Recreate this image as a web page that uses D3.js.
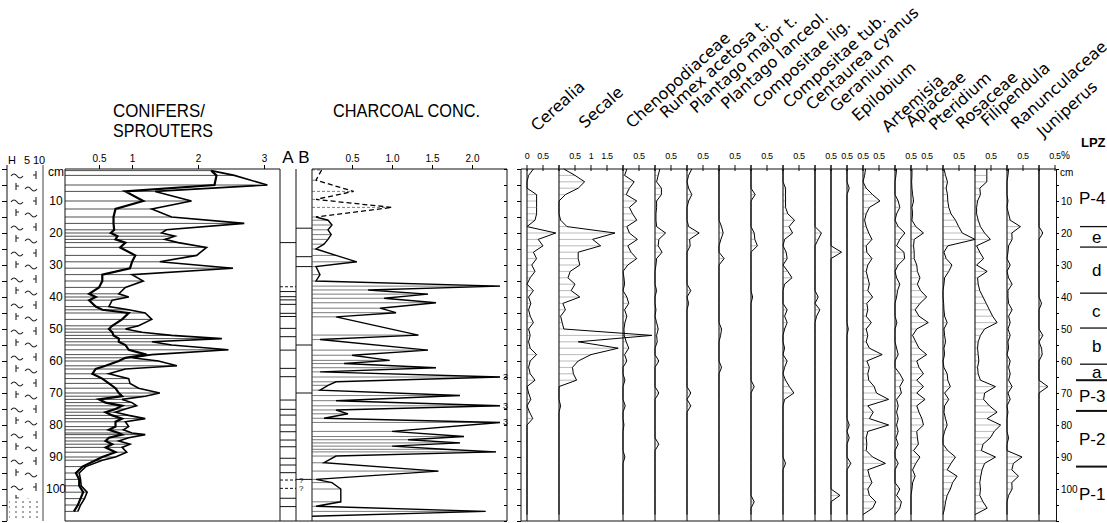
<!DOCTYPE html>
<html>
<head>
<meta charset="utf-8">
<script src="https://cdn.jsdelivr.net/npm/d3@7"></script>
<style>
  body { margin: 0; background: #fff; }
  svg { display: block; font-family: "Liberation Sans", Arial, sans-serif; }
</style>
</head>
<body>
<svg id="chart" width="1107" height="523"></svg>
<script>
// ---- data ----
// conifers / sprouters ratio (outer curve + bold inner curve)
var conDepths = [0.5,2,5,7,10,12.5,15,17,19,20,21,22,23,24.5,27,29,31,33,35,37,39,40,41,43,44,45,47,49,50,51,52,53,54,55,56.5,58,59,60,61.5,62.5,64,65.5,67,68.5,70,71,72,73,74,75,76,77,78,79,80.5,81.5,82.5,83,84,85,86,87,88.5,90,91,93,95,97,99,101,103,105,107];
var conOuter  = [2.2,2.55,3.05,1.35,1.9,1.3,1.6,2.7,1.52,1.45,1.65,1.5,1.7,2.13,1.98,1.42,2.53,1.0,1.17,0.9,0.8,0.95,0.7,0.65,0.95,1.2,1.3,1.1,0.9,1.15,1.6,2.36,1.3,1.6,2.46,1.3,1.0,1.4,1.68,0.9,0.65,0.95,0.97,1.1,1.42,1.2,0.85,1.0,1.07,0.9,0.75,0.95,1.2,0.9,0.95,0.87,1.0,1.2,0.95,0.8,0.97,0.85,0.92,0.75,0.55,0.3,0.2,0.22,0.23,0.32,0.28,0.22,0.18];
var conInner  = [2.2,2.28,2.25,0.9,1.17,0.75,0.72,0.72,0.73,0.68,0.78,0.75,0.9,0.82,1.05,1.0,0.97,0.55,0.55,0.5,0.35,0.45,0.35,0.45,0.55,0.95,0.85,0.7,0.65,0.7,0.72,0.8,0.8,0.9,0.95,1.22,0.9,0.8,0.6,0.45,0.4,0.55,0.65,0.75,0.8,0.85,0.5,0.6,0.85,0.75,0.6,0.7,0.85,0.75,0.75,0.65,0.8,0.85,0.65,0.6,0.7,0.6,0.75,0.55,0.45,0.25,0.15,0.2,0.2,0.26,0.22,0.18,0.12];

// charcoal concentration (values above the panel are printed as "3")
var charDepths = [0.3,3.5,7,9.5,12,15,16,17.5,19,20.5,22,23.5,25,27,29,30.5,33,35,36.6,37.8,39.1,40.4,41.8,43.5,44.9,46.2,51.9,53.3,56.6,58.2,59.8,60.8,62.1,63.4,65,66.5,67.6,69.1,70.8,72.4,74,75.3,76.5,77.9,79.2,82,83.6,84.6,85.6,86.6,87.6,88.4,89.7,91.8,94.4,97,98,100,104,105.4,107,108.5];
var charcoal   = [0.12,0.05,0.52,0.05,1.0,0.05,0.2,0.25,0.2,0.24,0.2,0.15,0.05,0.3,0.56,0.05,0.1,0.05,2.35,0.7,1.45,0.9,1.55,0.85,1.05,0.3,1.33,0.1,1.45,0.5,0.97,0.4,1.55,0.1,3,0.3,0.2,0.1,1.85,0.3,3,0.3,0.45,0.15,3,1.0,1.9,1.2,1.85,1.0,1.65,2.3,0.3,0.15,1.58,0.05,0.25,0.36,0.36,0.05,2.17,0];
var charDashedTo = 15;   // upper part of the charcoal curve is dashed

// columns A and B
var aLines  = [23,36.8,38.3,39.9,40.9,42.3,45.1,46.1,49.8,52.4,56.6,62.3,64.9,72.2,75.1,76.9,80,82.1,84.7,86.8,90.4,92.5,94.9,97.2,99.8,102.9,105.5];
var aDashed = [36.8,97.2,99.8];
var aQuery  = [97.2,99.8];
var bLines  = [18.5,27.4,30.5,55,70,97];

// pollen taxa (% values at the sample depths)
var pollenDepths = [0,2,4,6,8,10,12,14,16,18,20,22,24,26,28,30,32,34,36,38,40,42,44,46,48,50,52,54,56,58,60,62,64,66,68,70,72,74,76,78,80,82,84,86,88,90,92,94,96,98,100,102,104,106,108];
var taxa = ["Cerealia","Secale","Chenopodiaceae","Rumex acetosa t.","Plantago major  t.","Plantago lanceol.","Compositae lig.","Compositae tub.","Centaurea cyanus","Geranium","Epilobium","Artemisia","Apiaceae","Pteridium","Rosaceae","Filipendula","Ranunculaceae","Juniperus"];
var taxaScaleMax = [1,2,1,1,1,1,1,1,0.5,0.5,0.5,1,0.5,1,1,1,1,0.5];

var cerealia = [0.2,0.05,0,0,0.3,0.3,0.3,0.3,0.25,0, 0.9,0.35,0.5,0.2,0.3,0.15,0.25,0.1,0,0.2, 0.05,0.12,0.05,0.1,0.2,0.05,0.1,0.05,0.1,0.3, 0.1,0.05,0.1,0.25,0,0.05,0.12,0,0.08,0.18, 0,0,0,0,0,0,0,0,0,0, 0,0,0,0,0];
var secale   = [0.15,0.5,0.8,0.6,0.2,0,0,0,0.05,0.25, 1.75,1.05,1.3,0.6,0.6,0.65,0.35,0.28,0.5,0.38, 0.65,0.12,0.2,0.05,0.1,0.15,2.9,0.6,1.85,1.0, 0.6,0.42,0.45,0.55,0,0,0,0.05,0,0, 0,0,0,0,0,0,0,0,0,0, 0,0,0,0,0];
var cheno    = [0.12,0.05,0.35,0.2,0.1,0.43,0.2,0.3,0.43,0.12, 0.2,0.45,0.15,0.25,0.43,0.15,0,0.03,0.05,0, 0.12,0.18,0.05,0.12,0.06,0.03,0.04,0.1,0.18,0.05, 0.12,0,0,0.06,0,0,0,0.07,0,0, 0.03,0,0,0,0,0.06,0,0,0,0, 0,0,0,0,0];
var rumex    = [0.15,0.1,0.05,0.2,0.2,0.05,0.05,0.03,0.03,0.05, 0.33,0.12,0.1,0.22,0.05,0.03,0,0,0,0.05, 0,0,0.03,0,0.05,0.1,0.05,0.07,0,0, 0.12,0,0,0,0,0.12,0,0,0,0, 0,0,0,0.12,0,0,0,0,0,0, 0,0,0,0,0];
var plantMaj = [0.15,0.05,0,0.05,0.15,0.05,0,0,0,0.05, 0.38,0.08,0.1,0,0,0,0,0,0,0.12, 0,0.05,0,0,0,0,0,0,0,0, 0,0,0,0,0,0.12,0,0.12,0,0, 0,0,0,0,0,0,0,0,0,0, 0,0,0,0,0];
var plantLan = [0,0,0,0,0,0,0,0,0,0.08, 0.13,0.06,0,0,0.16,0,0,0,0,0, 0,0,0,0,0,0.08,0.05,0,0,0, 0,0.08,0,0,0,0,0,0,0,0, 0,0,0,0,0,0,0,0,0,0, 0,0,0,0,0];
var compLig  = [0,0,0,0,0.13,0,0,0,0,0, 0.1,0.12,0.2,0,0,0,0,0,0,0, 0.05,0,0,0,0,0,0,0,0,0, 0,0,0,0,0.1,0,0,0,0,0, 0,0,0,0,0,0,0,0,0,0, 0,0,0.1,0,0];
var compTub  = [0,0,0,0.08,0.08,0.08,0.08,0.15,0.36,0.19, 0.3,0.05,0,0.1,0.13,0,0.15,0.28,0.05,0, 0,0,0.13,0.05,0.13,0.05,0,0,0.05,0, 0.13,0.05,0,0.08,0.2,0.34,0.05,0,0,0, 0,0,0,0,0,0,0.08,0,0,0, 0,0,0,0,0];
var centaur  = [0,0,0,0,0,0,0,0,0,0, 0.2,0.1,0,0,0,0,0,0,0,0, 0.1,0,0.15,0.05,0,0,0,0,0,0, 0,0,0,0,0,0,0,0,0,0, 0,0,0,0,0,0,0,0,0,0, 0,0,0,0,0];
var geranium = [0,0,0,0,0,0,0,0,0,0, 0,0,0,0.33,0,0,0,0,0,0, 0,0,0,0,0,0,0,0,0,0, 0,0,0,0,0,0,0,0,0,0, 0,0,0,0,0,0,0,0,0,0, 0,0.28,0,0,0];
var epilob   = [0,0,0,0.07,0,0,0,0,0,0, 0,0,0,0,0,0,0,0,0,0, 0,0,0,0,0,0.04,0,0,0,0, 0,0,0,0,0,0,0,0,0,0, 0.07,0,0.07,0,0,0,0.12,0,0,0, 0,0,0,0,0];
var artemis  = [0.08,0.05,0,0.1,0.3,0.53,0.2,0.1,0.05,0.1, 0.18,0.28,0.1,0.12,0.28,0.15,0.1,0.15,0.2,0.15, 0.3,0.12,0.15,0.1,0.26,0.1,0.15,0.1,0.2,0.6, 0.12,0.2,0.15,0.18,0.35,0.42,0.8,0.15,0.32,0.2, 0.8,0.15,0.1,0.12,0.1,0.3,0.7,0.15,0.2,0.28, 0.15,0.2,0.4,0.3,0];
var apiac    = [0.05,0.03,0,0,0,0.1,0.15,0.05,0,0.1, 0.31,0.15,0.05,0.28,0.3,0.1,0,0.05,0.15,0.08, 0.05,0,0,0,0.06,0,0,0,0.05,0.1, 0,0,0.15,0.26,0.15,0.2,0.05,0.1,0.05,0.1, 0.05,0.1,0.03,0.1,0,0,0.1,0,0,0, 0.15,0.05,0.2,0.15,0];
var pterid   = [0.03,0.03,0.02,0.03,0.05,0.08,0.03,0.05,0.03,0.15, 0.39,0.1,0.08,0.1,0.1,0.18,0.2,0.28,0.2,0.3, 0.49,0.28,0.13,0.25,0.54,0.18,0.05,0.15,0.25,0.49, 0.18,0.25,0.39,0.18,0.39,0.18,0.44,0.18,0.25,0.34, 0.39,0.18,0.2,0.23,0.08,0.28,0.15,0.05,0.13,0.05, 0.03,0,0,0,0];
var rosac    = [0.03,0.08,0.14,0.1,0.14,0.15,0.18,0.25,0.39,0.49, 0.6,1.0,0.15,0.03,0.1,0.28,0.18,0.05,0.03,0, 0,0.02,0.03,0.05,0.13,0.03,0.05,0.08,0.03,0.05, 0,0.03,0.13,0.15,0.23,0.05,0.18,0.05,0.03,0.08, 0.13,0.05,0,0,0.15,0.39,0.25,0.13,0.44,0.3, 0.23,0.13,0.08,0.05,0];
var filip    = [0.37,0.37,0.37,0.15,0.17,0.08,0.05,0.05,0.1,0.17, 0.3,0.48,0.05,0.15,0.27,0.05,0.38,0.08,0.1,0.15, 0.25,0.35,0.45,0.55,0.69,0.3,0.17,0.1,0.08,0.1, 0.12,0.08,0.1,0.17,0.64,0.3,0.27,0.45,0.69,0.38, 0.8,0.6,0.48,0.25,0.2,0.64,0.3,0.22,0.18,0.15, 0.17,0.15,0.25,0.38,0];
var ranunc   = [0.05,0.03,0,0,0,0.03,0,0.05,0.1,0.42, 0.15,0.16,0.05,0.03,0,0.1,0,0.05,0.16,0.03, 0.03,0.05,0.16,0.05,0.1,0.03,0.1,0.03,0.05,0, 0.1,0.05,0.1,0.05,0.16,0.03,0.1,0,0.03,0, 0,0,0.05,0,0,0.47,0.2,0.15,0.36,0.15, 0.16,0.05,0,0,0];
var junip    = [0,0,0,0,0,0,0,0,0,0, 0.12,0,0,0,0,0,0,0,0,0, 0,0.08,0,0,0,0,0.12,0,0.08,0.1, 0,0,0,0,0.28,0,0,0,0,0, 0,0,0,0,0,0,0,0,0,0, 0,0,0,0,0];
var pollenValues = [cerealia,secale,cheno,rumex,plantMaj,plantLan,compLig,compTub,centaur,geranium,epilob,artemis,apiac,pterid,rosac,filip,ranunc,junip];

// local pollen assemblage zones
var zoneBounds = [18,24.4,38.8,49.7,61,66,75.6,93];
var zoneMajor  = [false,false,false,false,false,true,true,true];
var zoneNames  = ["P-4","e","d","c","b","a","P-3","P-2","P-1"];

// lithology units
var lithTypes  = ["peat","sand"];
var lithTop    = [0,103];
var lithBottom = [103,110];

var depthLabels = [10,20,30,40,50,60,70,80,90,100];
var depthTicks  = [0,5,10,15,20,25,30,35,40,45,50,55,60,65,70,75,80,85,90,95,100,105,110];

// start points of the slanted taxon names (layout only)
var labelX = [537,585,632,666,696,727,759,789,812,836,858,888,912,935,962,987,1017,1043];
var labelY = [132,129,129,119,114,110,109,109,111,113,122,133,128,131,130,127,130,138];

// ---- layout ----
var yTop = 169, yBottom = 521;
var svg = d3.select("#chart");

var y = d3.scaleLinear().domain([0, 110]).range([yTop, yBottom]);
var conX = d3.scaleLinear().domain([0, 3]).range([66, 264]);
var charX = d3.scaleLinear().domain([0, 2]).range([312, 472]);
// pollen: 1 % = 32 px, panels placed side by side
var pctX = d3.scaleLinear().domain([0, d3.sum(taxaScaleMax)]).range([527, 1055]);
var starts = [];
taxaScaleMax.reduce(function(acc, w) { starts.push(acc); return acc + w; }, 0);

function vline(x, y1, y2, w) {
    return svg.append("line").attr("x1", x).attr("x2", x).attr("y1", y1).attr("y2", y2)
        .attr("stroke", "#111").attr("stroke-width", w || 1);
}
function hline(x1, x2, yy, w) {
    return svg.append("line").attr("x1", x1).attr("x2", x2).attr("y1", yy).attr("y2", yy)
        .attr("stroke", "#111").attr("stroke-width", w || 1);
}

// ---- lithology column ----
var defs = svg.append("defs");
var peat = defs.append("pattern").attr("id", "peat").attr("patternUnits", "userSpaceOnUse")
    .attr("x", 8).attr("y", yTop).attr("width", 34).attr("height", 26);
peat.append("path")
    .attr("d", "M3 7 q3 -4 6 0 t6 0 M17 20 q3 -4 6 0 t6 0 M28 2 v8 M25 6 h3 M8 14 v7 M8 17 h3")
    .attr("fill", "none").attr("stroke", "#222").attr("stroke-width", 1.1);
var sand = defs.append("pattern").attr("id", "sand").attr("patternUnits", "userSpaceOnUse")
    .attr("width", 7).attr("height", 5);
sand.append("circle").attr("cx", 2).attr("cy", 2).attr("r", 0.8).attr("fill", "#333");

svg.selectAll("rect.lith")
    .data(lithTypes)
    .enter()
    .append("rect")
    .attr("class", "lith")
    .attr("x", 9).attr("width", 32)
    .attr("y", function(d, i) { return y(lithTop[i]); })
    .attr("height", function(d, i) { return y(lithBottom[i]) - y(lithTop[i]); })
    .attr("fill", function(d) { return "url(#" + d + ")"; });

vline(7, yTop - 4, yBottom);
vline(43, yTop - 4, yBottom, 0.8);
svg.append("g")
    .attr("transform", "translate(7,0)")
    .call(d3.axisLeft(y).tickValues(depthTicks).tickSize(5).tickFormat(""))
    .call(function(g) { g.select(".domain").remove(); });

svg.selectAll("text.lithhead")
    .data(["H", "5", "10"])
    .enter()
    .append("text")
    .attr("x", function(d, i) { return [12, 27, 39][i]; })
    .attr("y", 164)
    .attr("text-anchor", "middle")
    .attr("font-size", 11)
    .text(function(d) { return d; });

// depth labels left
svg.append("text").attr("x", 56).attr("y", 176).attr("text-anchor", "middle").attr("font-size", 12).text("cm");
svg.selectAll("text.ldepth")
    .data(depthLabels)
    .enter()
    .append("text")
    .attr("x", 56)
    .attr("y", function(d) { return y(d) + 4; })
    .attr("text-anchor", "middle")
    .attr("font-size", 12)
    .text(function(d) { return d; });

// ---- conifers / sprouters ----
svg.append("text").attr("x", 113).attr("y", 117).attr("font-size", 19)
    .attr("textLength", 92).attr("lengthAdjust", "spacingAndGlyphs").text("CONIFERS/");
svg.append("text").attr("x", 113).attr("y", 137).attr("font-size", 19)
    .attr("textLength", 100).attr("lengthAdjust", "spacingAndGlyphs").text("SPROUTERS");

svg.selectAll("line.conhatch")
    .data(conDepths)
    .enter()
    .append("line")
    .attr("class", "conhatch")
    .attr("x1", 65)
    .attr("x2", function(d, i) { return conX(conOuter[i]); })
    .attr("y1", function(d) { return y(d); })
    .attr("y2", function(d) { return y(d); })
    .attr("stroke", "#222").attr("stroke-width", 0.8);

var conLine = function(vals) {
    return d3.line()
        .x(function(d, i) { return conX(vals[i]); })
        .y(function(d) { return y(d); });
};
svg.append("path").datum(conDepths).attr("d", conLine(conOuter))
    .attr("fill", "none").attr("stroke", "#000").attr("stroke-width", 1.6);
svg.append("path").datum(conDepths).attr("d", conLine(conInner))
    .attr("fill", "none").attr("stroke", "#000").attr("stroke-width", 2.2);

vline(65, yTop, yBottom);
hline(65, 280, yTop);
hline(65, 280, yBottom);
svg.append("g")
    .attr("transform", "translate(0," + yTop + ")")
    .call(d3.axisTop(conX).tickValues([0.5, 1, 2, 3]).tickSize(4).tickPadding(3)
        .tickFormat(function(d) { return d === 0.5 ? "0.5" : d; }))
    .call(function(g) {
        g.select(".domain").remove();
        g.selectAll("text").attr("font-size", 10).attr("font-family", "Liberation Sans, Arial");
    });

// ---- columns A / B ----
vline(280, yTop, yBottom);
vline(296, yTop, yBottom);
vline(312, yTop, yBottom);
hline(280, 312, yBottom);
svg.append("text").attr("x", 288).attr("y", 163).attr("text-anchor", "middle").attr("font-size", 17).text("A");
svg.append("text").attr("x", 304).attr("y", 163).attr("text-anchor", "middle").attr("font-size", 17).text("B");

svg.selectAll("line.aline")
    .data(aLines)
    .enter()
    .append("line")
    .attr("x1", 280).attr("x2", 296)
    .attr("y1", function(d) { return y(d); })
    .attr("y2", function(d) { return y(d); })
    .attr("stroke", "#111").attr("stroke-width", 1)
    .attr("stroke-dasharray", function(d) { return aDashed.indexOf(d) >= 0 ? "3,2" : null; });
svg.selectAll("text.aq")
    .data(aQuery)
    .enter()
    .append("text")
    .attr("x", 299).attr("y", function(d) { return y(d) + 3; })
    .attr("font-size", 8).text("?");
svg.selectAll("line.bline")
    .data(bLines)
    .enter()
    .append("line")
    .attr("x1", 296).attr("x2", 312)
    .attr("y1", function(d) { return y(d); })
    .attr("y2", function(d) { return y(d); })
    .attr("stroke", "#111").attr("stroke-width", 1);

// ---- charcoal ----
svg.append("text").attr("x", 333).attr("y", 117).attr("font-size", 19)
    .attr("textLength", 147).attr("lengthAdjust", "spacingAndGlyphs").text("CHARCOAL CONC.");

var charMax = 2.35;
svg.selectAll("line.charhatch")
    .data(charDepths)
    .enter()
    .append("line")
    .attr("x1", 312)
    .attr("x2", function(d, i) { return charX(Math.min(charcoal[i], charMax)); })
    .attr("y1", function(d) { return y(d); })
    .attr("y2", function(d) { return y(d); })
    .attr("stroke", "#444").attr("stroke-width", 0.7)
    .attr("stroke-dasharray", function(d) { return d < charDashedTo ? "3,2" : null; });

var charLine = d3.line()
    .x(function(d) { return charX(Math.min(d[1], charMax)); })
    .y(function(d) { return y(d[0]); });
var charPts = charDepths.map(function(d, i) { return [d, charcoal[i]]; });
svg.append("path")
    .datum(charPts.filter(function(p) { return p[0] <= charDashedTo; }))
    .attr("d", charLine)
    .attr("fill", "none").attr("stroke", "#000").attr("stroke-width", 1.3).attr("stroke-dasharray", "5,3");
svg.append("path")
    .datum(charPts.filter(function(p) { return p[0] >= charDashedTo; }))
    .attr("d", charLine)
    .attr("fill", "none").attr("stroke", "#000").attr("stroke-width", 1.4);
svg.selectAll("text.cap")
    .data(charPts.filter(function(p) { return p[1] > charMax + 0.1; }))
    .enter()
    .append("text")
    .attr("x", charX(charMax) + 3)
    .attr("y", function(d) { return y(d[0]) + 3; })
    .attr("font-size", 9)
    .text(function(d) { return d[1]; });

hline(312, 507, yTop);
hline(312, 507, yBottom);
vline(507, yTop, yBottom);
svg.append("g")
    .attr("transform", "translate(507,0)")
    .call(d3.axisLeft(y).tickValues(depthTicks).tickSize(3).tickFormat(""))
    .call(function(g) { g.select(".domain").remove(); });
svg.append("g")
    .attr("transform", "translate(0," + yTop + ")")
    .call(d3.axisTop(charX).tickValues([0.5, 1, 1.5, 2]).tickSize(4).tickPadding(3))
    .call(function(g) {
        g.select(".domain").remove();
        g.selectAll("text").attr("font-size", 10).attr("font-family", "Liberation Sans, Arial");
    });

// ---- pollen diagram ----
vline(521, yTop, yBottom);
svg.append("g")
    .attr("transform", "translate(521,0)")
    .call(d3.axisLeft(y).tickValues(depthTicks).tickSize(4).tickFormat(""))
    .call(function(g) { g.select(".domain").remove(); });
hline(521, 1056, yTop);
hline(521, 1056, yBottom);

taxa.forEach(function(name, t) {
    var x0 = pctX(starts[t]);
    var px = d3.scaleLinear().domain([0, 1]).range([x0, x0 + (pctX(1) - pctX(0))]);
    var vals = pollenValues[t];
    var g = svg.append("g").attr("class", "taxon");

    // sample hatching
    g.selectAll("line.h")
        .data(pollenDepths.filter(function(d, i) { return vals[i] > 0; }))
        .enter()
        .append("line")
        .attr("x1", x0)
        .attr("x2", function(d) { return px(vals[pollenDepths.indexOf(d)]); })
        .attr("y1", function(d) { return y(d); })
        .attr("y2", function(d) { return y(d); })
        .attr("stroke", "#777").attr("stroke-width", 0.5);

    g.append("path")
        .datum(pollenDepths)
        .attr("d", d3.line()
            .x(function(d, i) { return px(vals[i]); })
            .y(function(d) { return y(d); }))
        .attr("fill", "none").attr("stroke", "#000").attr("stroke-width", 1);

    g.append("line").attr("x1", x0).attr("x2", x0).attr("y1", yTop).attr("y2", yBottom)
        .attr("stroke", "#111").attr("stroke-width", 1.1);

    // top ticks and labels
    var tv = d3.range(0, taxaScaleMax[t] + 0.01, 0.5);
    g.selectAll("line.tk")
        .data(tv)
        .enter()
        .append("line")
        .attr("x1", function(d) { return px(d); })
        .attr("x2", function(d) { return px(d); })
        .attr("y1", yTop - 4).attr("y2", yTop + 2)
        .attr("stroke", "#111");
    g.selectAll("text.tl")
        .data(tv.filter(function(d) { return (d > 0 && d < taxaScaleMax[t]) || d === taxaScaleMax[t] && d === 0.5 || (t === 0 && d === 0); }))
        .enter()
        .append("text")
        .attr("x", function(d) { return px(d); })
        .attr("y", 159)
        .attr("text-anchor", "middle")
        .attr("font-size", 9)
        .attr("letter-spacing", -0.3)
        .text(function(d) { return d; });

    // slanted taxon name
    g.append("text")
        .attr("transform", "translate(" + labelX[t] + "," + labelY[t] + ") rotate(-42)")
        .attr("font-family", "DejaVu Sans, sans-serif")
        .attr("font-size", 16)
        .text(name);
});

svg.append("text").attr("x", 1061).attr("y", 159).attr("font-size", 10).text("%");

// right depth axis
svg.append("g")
    .attr("transform", "translate(1056,0)")
    .call(d3.axisRight(y).tickValues(depthTicks).tickSize(3).tickPadding(2)
        .tickFormat(function(d) { return depthLabels.indexOf(d) >= 0 ? d : ""; }))
    .call(function(g) {
        g.select(".domain").attr("stroke", "#111");
        g.selectAll("text").attr("font-size", 10).attr("font-family", "Liberation Sans, Arial");
    });
svg.append("text").attr("x", 1060).attr("y", 176).attr("font-size", 10).text("cm");

// ---- LPZ ----
svg.append("text").attr("x", 1081).attr("y", 147).attr("font-size", 13)
    .attr("font-weight", "bold").text("LPZ");
svg.selectAll("line.zone")
    .data(zoneBounds)
    .enter()
    .append("line")
    .attr("x1", function(d, i) { return zoneMajor[i] ? 1076 : 1080; })
    .attr("x2", 1107)
    .attr("y1", function(d) { return y(d); })
    .attr("y2", function(d) { return y(d); })
    .attr("stroke", "#111")
    .attr("stroke-width", function(d, i) { return zoneMajor[i] ? 2 : 1.3; });
var zEdges = [0].concat(zoneBounds, [110]);
svg.selectAll("text.zone")
    .data(zoneNames)
    .enter()
    .append("text")
    .attr("x", function(d) { return d.length > 1 ? 1079 : 1092; })
    .attr("y", function(d, i) { return y((zEdges[i] + zEdges[i + 1]) / 2) + 6; })
    .attr("font-size", 17)
    .text(function(d) { return d; });
</script>
</body>
</html>
